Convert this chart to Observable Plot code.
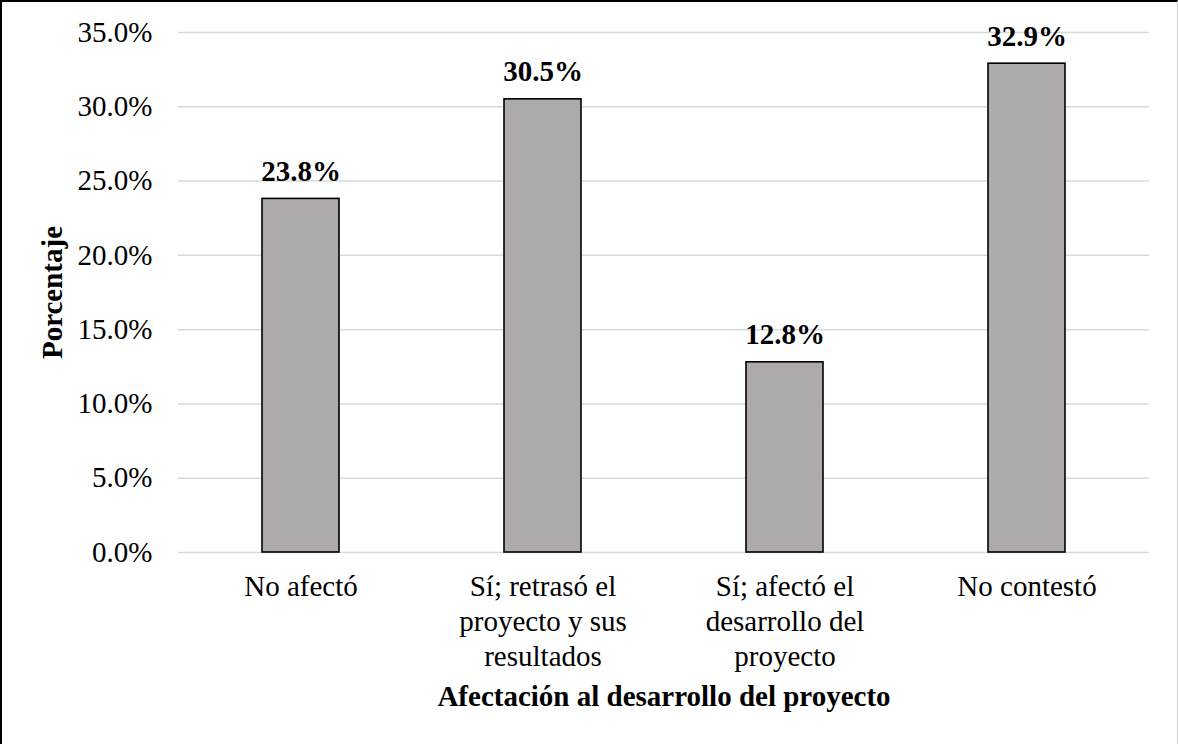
<!DOCTYPE html>
<html>
<head>
<meta charset="utf-8">
<script src="https://cdn.jsdelivr.net/npm/d3@7"></script>
<script src="https://cdn.jsdelivr.net/npm/@observablehq/plot@0.6"></script>
<style>
  body { margin: 0; background: #fff; }
  #wrap { position: relative; width: 1178px; height: 744px; overflow: hidden; }
  #frame { position: absolute; left: 0; top: 0; width: 1178px; height: 744px; box-sizing: border-box;
           border-left: 2px solid #000; border-top: 2px solid #000; border-right: 1px solid #d0d0d0; pointer-events: none; }
  svg { display: block; }
</style>
</head>
<body>
<div id="wrap"><div id="frame"></div></div>
<script>
const categories = [
  "No afectó",
  "Sí; retrasó el\nproyecto y sus\nresultados",
  "Sí; afectó el\ndesarrollo del\nproyecto",
  "No contestó"
];
const values = [23.8, 30.5, 12.8, 32.9];
const yTicks = [0, 5, 10, 15, 20, 25, 30, 35];
const xTitle = "Afectación al desarrollo del proyecto";
const yTitle = "Porcentaje";

const data = categories.map((c, i) => ({category: c, value: values[i]}));
const font = "'Liberation Serif', 'Times New Roman', serif";

const chart = Plot.plot({
  width: 1178,
  height: 744,
  marginLeft: 178,
  marginRight: 29,
  marginTop: 32,
  marginBottom: 192,
  style: {fontFamily: font, fontSize: "29px", color: "#000", background: "transparent"},
  x: {domain: categories, paddingInner: 0.683, paddingOuter: 0.3415, align: 0.5},
  y: {domain: [0, 35]},
  marks: [
    Plot.gridY(yTicks, {stroke: "#d9d9d9", strokeOpacity: 1, strokeWidth: 1.5}),
    Plot.barY(data, {x: "category", y: "value", fill: "#aeaaaa", stroke: "#000", strokeWidth: 1.6}),
    Plot.text(data, {x: "category", y: "value", text: d => d.value.toFixed(1) + "%",
      lineAnchor: "bottom", dy: -18, fontWeight: "bold", fontSize: 29, fill: "#000"}),
    Plot.axisY({ticks: yTicks, tickFormat: d => d.toFixed(1) + "%", tickSize: 0, tickPadding: 26,
      label: yTitle, labelAnchor: "center", labelArrow: "none", labelOffset: 137,
      fontSize: 29, fontWeight: null}),
    Plot.axisX({tickSize: 0, tickPadding: 19, lineHeight: 1.2, label: xTitle, labelAnchor: "center",
      labelArrow: "none", labelOffset: 153, fontSize: 29})
  ]
});

// make axis titles bold
chart.querySelectorAll("g[aria-label='y-axis label'] text, g[aria-label='x-axis label'] text")
  .forEach(t => { t.setAttribute("font-weight", "bold"); });
document.getElementById("wrap").prepend(chart);
</script>
</body>
</html>
